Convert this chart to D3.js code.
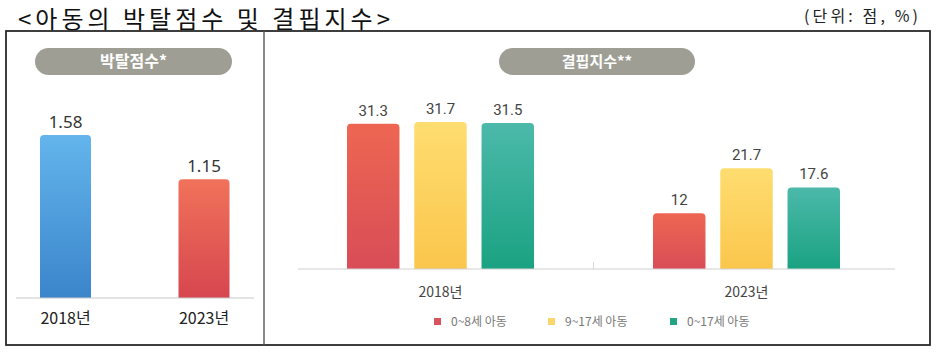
<!DOCTYPE html>
<html><head><meta charset="utf-8">
<script src="https://cdn.jsdelivr.net/npm/d3@7"></script>
<style>body{margin:0;background:#fff}svg{display:block}</style>
</head><body>
<svg id="c" width="938" height="353"></svg>
<script>
// ---- data ----
const years = ["2018년", "2023년"];
const deprivationScores = [1.58, 1.15];
const deprivationLabels = ["1.58", "1.15"];
const seriesNames = ["0~8세 아동", "9~17세 아동", "0~17세 아동"];
const lack2018 = [31.3, 31.7, 31.5];
const lack2023 = [12, 21.7, 17.6];
const lackLabels2018 = ["31.3", "31.7", "31.5"];
const lackLabels2023 = ["12", "21.7", "17.6"];
const titleText = "<아동의 박탈점수 및 결핍지수>";
const unitText = "(단위: 점, %)";
const leftPanelTitle = "박탈점수*";
const rightPanelTitle = "결핍지수**";

const svg = d3.select("#c");
const KR = "'Noto Sans CJK KR','Noto Sans',sans-serif";

// gradients
const defs = svg.append("defs");
function grad(id, top, bottom) {
  const g = defs.append("linearGradient").attr("id", id).attr("x1", 0).attr("y1", 0).attr("x2", 0).attr("y2", 1);
  g.append("stop").attr("offset", "0%").attr("stop-color", top);
  g.append("stop").attr("offset", "100%").attr("stop-color", bottom);
}
grad("gBlue", "#63b5ec", "#3b85cb");
grad("gRedL", "#f1725a", "#d6464f");
grad("gRed", "#ee6652", "#d84d57");
grad("gYel", "#fedd70", "#fbc64c");
grad("gTeal", "#4cb9aa", "#1aa282");
const seriesFill = ["url(#gRed)", "url(#gYel)", "url(#gTeal)"];
const legendColors = ["#d9535e", "#fad66b", "#22a584"];

function topRounded(x, y, w, h, r) {
  r = Math.min(r, h, w / 2);
  return `M${x},${y + h}V${y + r}Q${x},${y} ${x + r},${y}H${x + w - r}Q${x + w},${y} ${x + w},${y + r}V${y + h}Z`;
}

// title
svg.append("text").attr("x", 18).attr("y", 28).attr("font-family", KR).attr("font-size", 24)
  .attr("fill", "#111").attr("textLength", 372).attr("lengthAdjust", "spacing").text(titleText);
svg.append("text").attr("x", 918).attr("y", 22).attr("text-anchor", "end").attr("font-family", KR)
  .attr("font-size", 16).attr("fill", "#222").attr("textLength", 114).attr("lengthAdjust", "spacing").text(unitText);

// borders
svg.append("rect").attr("x", 6).attr("y", 31).attr("width", 924).attr("height", 314)
  .attr("fill", "none").attr("stroke", "#2a2a2a").attr("stroke-width", 1.8);
svg.append("line").attr("x1", 264).attr("x2", 264).attr("y1", 31).attr("y2", 345)
  .attr("stroke", "#555").attr("stroke-width", 1.4);

// pills
function pill(x, w, label, fs) {
  svg.append("rect").attr("x", x).attr("y", 48).attr("width", w).attr("height", 27)
    .attr("rx", 13.5).attr("fill", "#9e9e94");
  svg.append("text").attr("x", x + w / 2).attr("y", 67).attr("text-anchor", "middle")
    .attr("font-family", KR).attr("font-weight", 700).attr("font-size", fs).attr("fill", "#fff").text(label);
}
pill(35, 197, leftPanelTitle, 16);
pill(499, 196, rightPanelTitle, 15);

// ---- left panel ----
const xL = d3.scalePoint().domain(years).range([65.5, 204]);
const yL = d3.scaleLinear().domain([0, 1.58]).range([298, 135]);
const bwL = 51;
const leftFills = ["url(#gBlue)", "url(#gRedL)"];
svg.append("g").selectAll("path").data(years).join("path")
  .attr("d", (d, i) => topRounded(xL(d) - bwL / 2, yL(deprivationScores[i]), bwL, yL(0) - yL(deprivationScores[i]), 4))
  .attr("fill", (d, i) => leftFills[i]);
svg.append("line").attr("x1", 16).attr("x2", 254).attr("y1", yL(0)).attr("y2", yL(0))
  .attr("stroke", "#c8c8c8").attr("stroke-width", 1.2);
svg.append("g").selectAll("text").data(years).join("text")
  .attr("x", d => xL(d)).attr("y", (d, i) => yL(deprivationScores[i]) - 7)
  .attr("text-anchor", "middle").attr("font-family", "'Noto Sans',sans-serif").attr("font-size", 17)
  .attr("fill", "#333").text((d, i) => deprivationLabels[i]);
svg.append("g").selectAll("text").data(years).join("text")
  .attr("x", d => xL(d)).attr("y", 324).attr("text-anchor", "middle")
  .attr("font-family", KR).attr("font-size", 16).attr("fill", "#222").text(d => d);

// ---- right panel ----
const xG = d3.scalePoint().domain(years).range([440.5, 746.5]);
const xS = d3.scaleBand().domain(seriesNames).range([-93.5, 93.5]).paddingInner(0.22).paddingOuter(0);
const yR = d3.scaleLinear().domain([0, 31.7]).range([269, 122]);
const groups = [lack2018, lack2023];
const groupLabels = [lackLabels2018, lackLabels2023];

const rows = [];
years.forEach((yr, gi) => seriesNames.forEach((s, si) => rows.push({ yr, s, si, v: groups[gi][si], lab: groupLabels[gi][si] })));

svg.append("g").selectAll("path").data(rows).join("path")
  .attr("d", d => topRounded(xG(d.yr) + xS(d.s), yR(d.v), xS.bandwidth(), yR(0) - yR(d.v), 4))
  .attr("fill", d => seriesFill[d.si]);
svg.append("line").attr("x1", 298).attr("x2", 895).attr("y1", yR(0)).attr("y2", yR(0))
  .attr("stroke", "#cfcfcf").attr("stroke-width", 1.2);
svg.append("line").attr("x1", (xG(years[0]) + xG(years[1])) / 2).attr("x2", (xG(years[0]) + xG(years[1])) / 2)
  .attr("y1", yR(0) - 7).attr("y2", yR(0)).attr("stroke", "#d6d6d6").attr("stroke-width", 1);
svg.append("g").selectAll("text").data(rows).join("text")
  .attr("x", d => xG(d.yr) + xS(d.s) + xS.bandwidth() / 2).attr("y", d => yR(d.v) - 8)
  .attr("text-anchor", "middle").attr("font-family", "Roboto,sans-serif").attr("font-size", 15)
  .attr("fill", "#444").text(d => d.lab);
svg.append("g").selectAll("text").data(years).join("text")
  .attr("x", d => xG(d)).attr("y", 297).attr("text-anchor", "middle")
  .attr("font-family", KR).attr("font-size", 14).attr("fill", "#444").text(d => d);

// legend
const legX = [434, 548, 670];
const leg = svg.append("g").selectAll("g").data(seriesNames).join("g")
  .attr("transform", (d, i) => `translate(${legX[i]},318)`);
leg.append("rect").attr("width", 7).attr("height", 7).attr("fill", (d, i) => legendColors[i]);
leg.append("text").attr("x", 17).attr("y", 8).attr("font-family", KR).attr("font-size", 12)
  .attr("fill", "#777").text(d => d);
</script>
</body></html>
